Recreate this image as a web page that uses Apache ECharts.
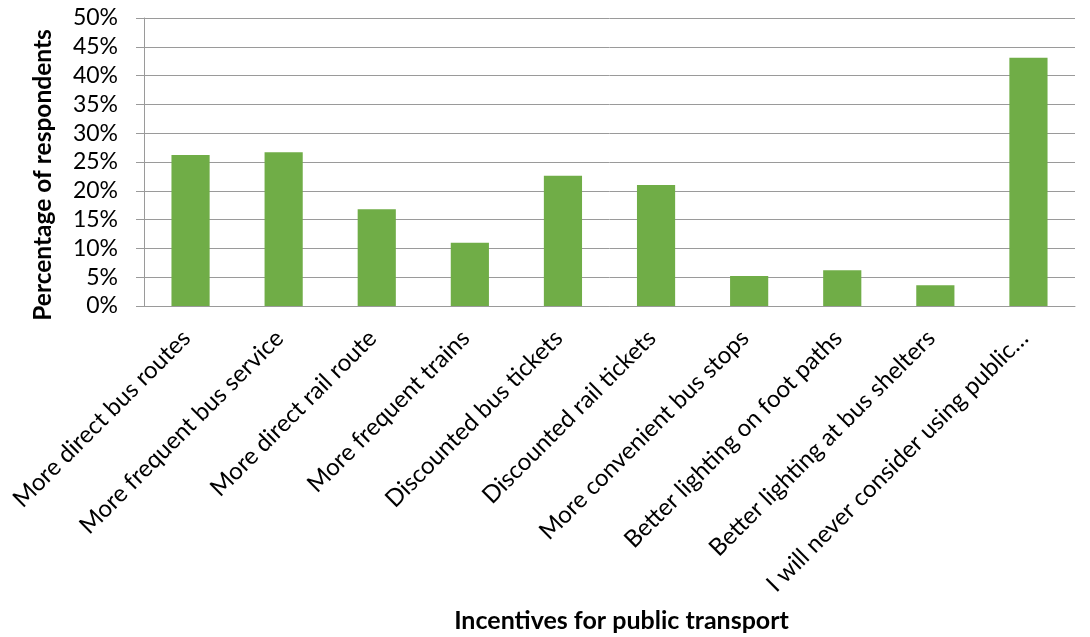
<!DOCTYPE html>
<html>
<head>
<meta charset="utf-8">
<script src="https://cdn.jsdelivr.net/npm/echarts@6/dist/echarts.min.js"></script>
<style>
  html, body { margin: 0; padding: 0; background: #fff; }
  #chart { width: 1090px; height: 637px; }
</style>
</head>
<body>
<div id="chart"></div>
<script>
var categories = [
  'More direct bus routes',
  'More frequent bus service',
  'More direct rail route',
  'More frequent trains',
  'Discounted bus tickets',
  'Discounted rail tickets',
  'More convenient bus stops',
  'Better lighting on foot paths',
  'Better lighting at bus shelters',
  'I will never consider using public…'
]
var percentages = [26.2, 26.7, 16.8, 11.0, 22.6, 21.0, 5.2, 6.2, 3.6, 43.1]

var myChart = echarts.init(document.getElementById('chart'))
var option
option = {
  animation: false,
  textStyle: {
    fontFamily: 'Lato'
  },
  grid: {
    left: 144,
    right: 15,
    top: 18,
    bottom: 331
  },
  xAxis: {
    type: 'category',
    data: categories,
    name: 'Incentives for public transport',
    nameLocation: 'middle',
    nameGap: 302,
    nameTextStyle: {
      color: '#000',
      fontSize: 25,
      fontWeight: 'bold',
      padding: [0, 0, 0, 24]
    },
    axisLine: {
      lineStyle: { color: '#9a9a9a', width: 1 }
    },
    axisTick: {
      length: 8,
      lineStyle: { color: '#9a9a9a' }
    },
    axisLabel: {
      rotate: 45,
      interval: 0,
      margin: 24,
      color: '#000',
      fontSize: 24,
      padding: [0, 6, 0, 0]
    }
  },
  yAxis: {
    type: 'value',
    min: 0,
    max: 50,
    interval: 5,
    name: 'Percentage of respondents',
    nameLocation: 'middle',
    nameGap: 88,
    nameTextStyle: {
      color: '#000',
      fontSize: 24.5,
      fontWeight: 'bold',
      padding: [0, 26, 0, 0]
    },
    axisLine: {
      show: true,
      lineStyle: { color: '#9a9a9a', width: 1 }
    },
    axisTick: {
      show: true,
      length: 8,
      lineStyle: { color: '#9a9a9a' }
    },
    axisLabel: {
      margin: 26,
      color: '#000',
      fontSize: 23,
      formatter: '{value}%'
    },
    splitLine: {
      lineStyle: { color: '#9a9a9a', width: 1 }
    }
  },
  series: [
    {
      name: 'Percentage of respondents',
      type: 'bar',
      barWidth: '41%',
      itemStyle: {
        color: '#70ad47'
      },
      data: percentages
    }
  ]
}
option && myChart.setOption(option)
</script>
</body>
</html>
